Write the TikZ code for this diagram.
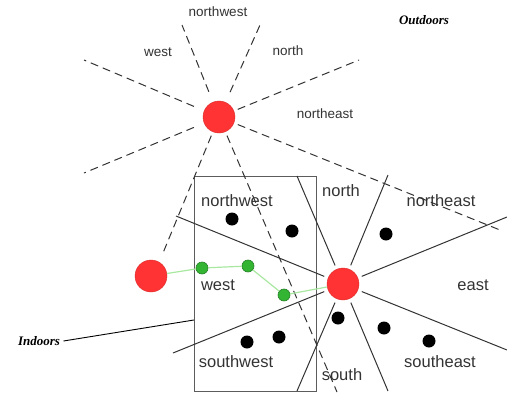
\documentclass[tikz,border=0pt]{standalone}
\usepackage{fontspec}
\setmainfont{Liberation Sans}
\newfontfamily\tagfont{Liberation Serif}
\definecolor{sunred}{HTML}{FF3333}
\definecolor{hopgreen}{HTML}{33B533}
\definecolor{pathgreen}{HTML}{A8E8A0}
\definecolor{inkgray}{HTML}{333333}
\tikzset{
  sun/.style={circle,fill=sunred,draw=sunred!85!black,line width=0.4pt,
    minimum size=32pt,inner sep=0pt},
  hop/.style={circle,fill=hopgreen,draw=hopgreen!70!black,line width=0.6pt,
    minimum size=12pt,inner sep=0pt},
  marker/.style={circle,fill=black,minimum size=13pt,inner sep=0pt},
  ray/.style={draw=inkgray,line width=1pt,shorten <=4pt},
  outray/.style={ray,dash pattern=on 8pt off 5pt},
  farray/.style={outray,shorten <=11pt},
  biglbl/.style={text=inkgray,font=\fontsize{16.5}{18}\selectfont},
  smalllbl/.style={text=inkgray,font=\fontsize{13.5}{15}\selectfont},
  tag/.style={font=\tagfont\bfseries\itshape\fontsize{13}{14}\selectfont},
}

\begin{document}
\begin{tikzpicture}[x=1pt,y=-1pt]
  \useasboundingbox (0,0) rectangle (507,394);
  % room
  \draw[inkgray!80,line width=0.8pt] (194,176) rectangle (316,391);
  \coordinate (hook) at (194,320);

  % outdoor anchor and its sectors
  \node[sun] (out) at (219,117) {};
  \coordinate (o1) at (84,60);
  \coordinate (o2) at (84,173);
  \coordinate (o3) at (182,25);
  \coordinate (o4) at (260,25);
  \coordinate (o5) at (359,60);
  \coordinate (o6) at (500,230);
  \coordinate (o7) at (163,253);
  \coordinate (o8) at (337,392);
  \draw[farray] (out) -- (o1);
  \draw[farray] (out) -- (o2);
  \draw[farray] (out) -- (o3);
  \draw[farray] (out) -- (o4);
  \draw[outray] (out) -- (o5);
  \draw[outray] (out) -- (o6);
  \draw[outray] (out) -- (o7);
  \draw[outray] (out) -- (o8);
  \node[smalllbl] (onw) at (218,12) {northwest};
  \node[smalllbl] (ow)  at (158,52) {west};
  \node[smalllbl] (on)  at (288,51) {north};
  \node[smalllbl] (one) at (325,114) {northeast};

  % indoor anchor and its sectors
  \node[sun] (rx) at (343,284) {};
  \coordinate (i1) at (176,216);
  \coordinate (i2) at (173,353);
  \coordinate (i3) at (297,176);
  \coordinate (i4) at (388,175);
  \coordinate (i5) at (507,217);
  \coordinate (i6) at (507,350);
  \coordinate (i7) at (297,391);
  \coordinate (i8) at (388,391);
  \draw[ray] (rx) -- (i1);
  \draw[ray] (rx) -- (i2);
  \draw[ray] (rx) -- (i3);
  \draw[ray] (rx) -- (i4);
  \draw[ray] (rx) -- (i5);
  \draw[ray] (rx) -- (i6);
  \draw[ray] (rx) -- (i7);
  \draw[ray] (rx) -- (i8);
  \node[biglbl] (inw) at (237,201) {northwest};
  \node[biglbl] (in)  at (341,191) {north};
  \node[biglbl] (ine) at (441,201) {northeast};
  \node[biglbl] (iw)  at (218,285) {west};
  \node[biglbl] (ie)  at (473,285) {east};
  \node[biglbl] (isw) at (236,362) {southwest};
  \node[biglbl] (is)  at (342,375) {south};
  \node[biglbl] (ise) at (440,362) {southeast};

  % reference points
  \node[marker] (d1) at (232,219) {};
  \node[marker] (d2) at (292,231) {};
  \node[marker] (d3) at (386,234) {};
  \node[marker] (d4) at (338,318) {};
  \node[marker] (d5) at (384,328) {};
  \node[marker] (d6) at (429,341) {};
  \node[marker] (d7) at (247,342) {};
  \node[marker] (d8) at (279,337) {};

  % walk
  \node[sun] (tx) at (151,276) {};
  \node[hop] (g1) at (202,268) {};
  \node[hop] (g2) at (248,266) {};
  \node[hop] (g3) at (284,295) {};
  \draw[pathgreen,line width=1.2pt] (tx) -- (g1) -- (g2) -- (g3) -- (rx);

  % tags
  \node[tag] (outdoors) at (424,20) {Outdoors};
  \node[tag] (indoors) at (39,341) {Indoors};
  \draw[black,line width=0.9pt] (indoors.east) -- (hook);
\end{tikzpicture}
\end{document}
